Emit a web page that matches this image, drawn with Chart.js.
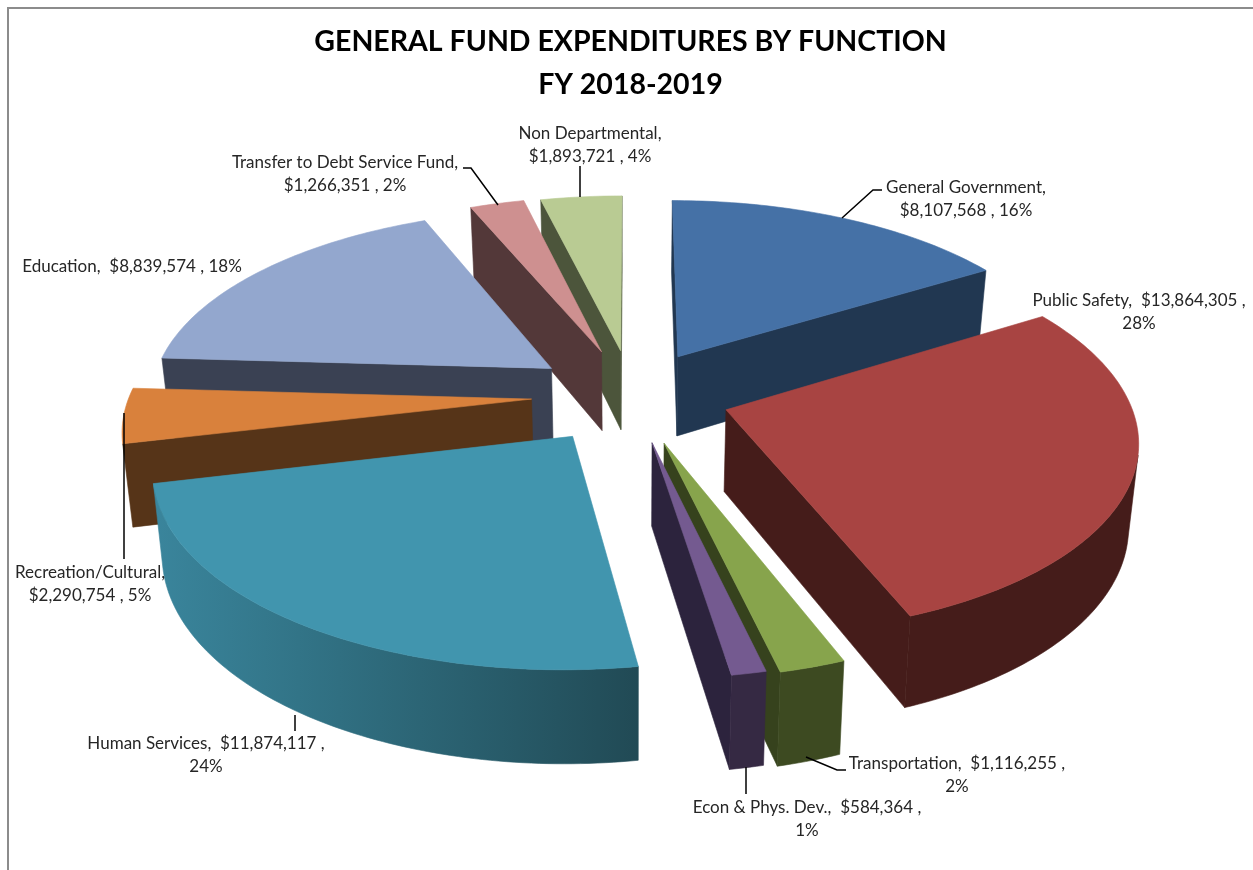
<!DOCTYPE html>
<html><head><meta charset="utf-8">
<style>html,body{margin:0;padding:0;background:#fff}canvas{display:block}</style>
<script src="https://cdn.jsdelivr.net/npm/chart.js@4"></script>
</head><body><canvas id="c" width="1253" height="870"></canvas>
<script>
const categories = ["General Government","Public Safety","Transportation","Econ & Phys. Dev.","Human Services","Recreation/Cultural","Education","Transfer to Debt Service Fund","Non Departmental"];
const expenditures = [8107568,13864305,1116255,584364,11874117,2290754,8839574,1266351,1893721];
const percents = [16,28,2,1,24,5,18,2,4];
const titleLines = ["GENERAL FUND EXPENDITURES BY FUNCTION","FY 2018-2019"];
const explode = [24,24.4,26,25,25.7,25,25,25,24.5];
const topColors = ["#4571A6","#A84442","#87A44C","#745A90","#4195AE","#D9813C","#93A7CE","#CE9090","#B9CB93"];
const wallColors = ["#213751","#451C1A","#3D4A21","#352943","#2F6F83","#563418","#3A4153","#533839","#4C553B"];
const edgeColors = ["#213751","#451C1A","#36421D","#2C233D","#2F6F83","#563418","#3A4153","#533839","#4C553B"];
const drawOrder = [0,8,7,6,5,4,1,2,3];
const PROJ = {dx:1.5, cy:395, a:402, b:188, p:0.14, depth:81, depthPow:0.8, shrink:0.98};
const labelPos = [[966,188],[1139,301],[957,764],[807,808],[206,744],[90,573],[132,267],[345,163],[590,134]];
const labelBreak = ["cat","val","val","val","val","cat","none","cat","cat"];
const leaders = [[[842,218],[873,190],[882,190]],[],[[806,757],[837,770],[846,770]],[[746,767],[746,794]],[[295,715],[295,731]],[[124,413],[124,559]],[],[[463,168],[471,168],[498,205]],[[580,166],[580,197]]];

function money(v){return "$"+v.toLocaleString("en-US");}
function labelLines(i){
  const c=categories[i], m=money(expenditures[i]), p=percents[i]+"%";
  if(labelBreak[i]==="cat") return [c+",", m+" , "+p];
  if(labelBreak[i]==="val") return [c+",  "+m+" ,", p];
  return [c+",  "+m+" , "+p];
}
function sliceGeom(arc){
  const t0=arc.startAngle+Math.PI/2, t1=arc.endAngle+Math.PI/2, mid=(t0+t1)/2;
  const e=arc.options.offset/100, cx=arc.x+PROJ.dx;
  const ex=e*Math.sin(mid), ey=e*Math.cos(mid);
  const pt=(th,r,z)=>{
    const X=ex+r*Math.sin(th),Y=ey+r*Math.cos(th),w=1+PROJ.p*Y;
    const sx=PROJ.a*X/w, sy=PROJ.cy-PROJ.b*Y/w;
    return z?[cx+sx*PROJ.shrink, sy+PROJ.depth/Math.pow(w,PROJ.depthPow)]:[cx+sx, sy];
  };
  const n=Math.max(4,Math.ceil((t1-t0)/(Math.PI/180)));
  const ths=[];for(let k=0;k<=n;k++)ths.push(t0+(t1-t0)*k/n);
  return {pt,ths,t0,t1};
}
function poly(ctx,pts,fill){
  ctx.beginPath();pts.forEach((p,i)=>i?ctx.lineTo(p[0],p[1]):ctx.moveTo(p[0],p[1]));ctx.closePath();
  ctx.fillStyle=fill;ctx.fill();ctx.strokeStyle=fill;ctx.lineWidth=0.6;ctx.stroke();
}
function facesViewer(q){
  let area=0;q.forEach((p,k)=>{const n=q[(k+1)%4];area+=p[0]*n[1]-n[0]*p[1];});
  return area<0;
}
function wall(ctx,u,v,u1,v1,fill){const q=[u,v,v1,u1];if(facesViewer(q))poly(ctx,q,fill);}
const pie3d={id:"pie3d",
  beforeDatasetDraw(chart,args){
    const ctx=chart.ctx,meta=chart.getDatasetMeta(args.index);
    drawOrder.forEach(i=>{
      const g=sliceGeom(meta.data[i]);
      const P=(th,z)=>g.pt(th,1,z), A0=g.pt(0,0,0), A1=g.pt(0,0,1);
      let fill=wallColors[i];
      if(i===4){
        const xs=g.ths.map(t=>P(t,0)[0]),gr=ctx.createLinearGradient(Math.min(...xs),0,Math.max(...xs),0);
        gr.addColorStop(0,"#3A859C");gr.addColorStop(0.3,"#327487");gr.addColorStop(1,"#214A55");fill=gr;
      }
      wall(ctx,A0,P(g.t0,0),A1,P(g.t0,1),edgeColors[i]);
      wall(ctx,P(g.t1,0),A0,P(g.t1,1),A1,edgeColors[i]);
      let run=[];
      const flush=()=>{if(run.length>1)poly(ctx,run.map(t=>P(t,0)).concat(run.slice().reverse().map(t=>P(t,1))),fill);run=[];};
      for(let k=0;k<g.ths.length-1;k++){
        const a=g.ths[k],b=g.ths[k+1];
        if(facesViewer([P(a,0),P(b,0),P(b,1),P(a,1)])){if(!run.length)run.push(a);run.push(b);}
        else flush();
      }
      flush();
      poly(ctx,[A0].concat(g.ths.map(t=>P(t,0))),topColors[i]);
    });
    return false;
  },
  afterDatasetsDraw(chart){
    const ctx=chart.ctx;
    ctx.save();
    ctx.strokeStyle="#000";ctx.lineWidth=1.5;
    leaders.forEach(l=>{if(!l.length)return;ctx.beginPath();l.forEach((p,k)=>k?ctx.lineTo(p[0],p[1]):ctx.moveTo(p[0],p[1]));ctx.stroke();});
    ctx.font="17px Lato";ctx.fillStyle="#262626";ctx.textAlign="center";ctx.textBaseline="middle";
    categories.forEach((c,i)=>labelLines(i).forEach((t,k)=>ctx.fillText(t,labelPos[i][0],labelPos[i][1]+k*22.5)));
    ctx.restore();
  },
  beforeDraw(chart){
    const ctx=chart.ctx;ctx.save();ctx.fillStyle="#fff";ctx.fillRect(0,0,1253,870);
    ctx.strokeStyle="#8c8c8c";ctx.lineWidth=2;ctx.beginPath();ctx.moveTo(8,870);ctx.lineTo(8,8);ctx.lineTo(1253,8);ctx.stroke();ctx.restore();
  }
};
new Chart(document.getElementById("c"),{
  type:"pie",
  data:{labels:categories,datasets:[{data:expenditures,backgroundColor:topColors,borderWidth:0,offset:explode}]},
  plugins:[pie3d],
  options:{responsive:false,animation:false,events:[],
    layout:{padding:{left:8,right:0,top:0,bottom:0}},
    plugins:{legend:{display:false},tooltip:{enabled:false},
      title:{display:true,text:titleLines,color:"#000",align:"center",
        font:{family:"Lato",size:28.5,weight:"bold",lineHeight:1.51},padding:{top:20,bottom:0}}}}
});
</script></body></html>
